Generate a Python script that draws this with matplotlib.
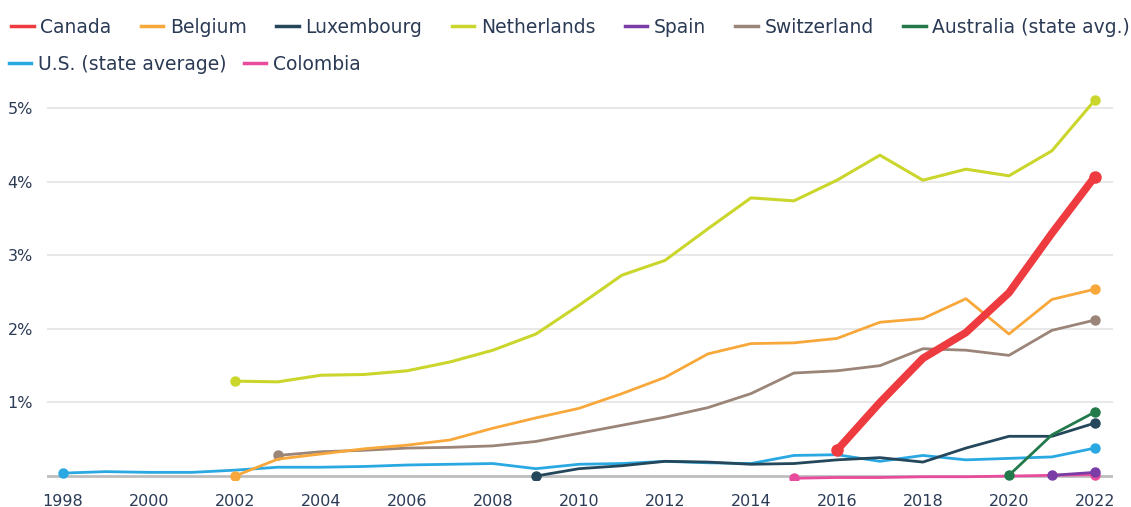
import matplotlib
matplotlib.use("Agg")
import matplotlib.pyplot as plt
from matplotlib.lines import Line2D

plt.rcParams['font.family'] = ['DejaVu Sans']

# share of deaths, % by year
canada_years = [2016, 2017, 2018, 2019, 2020, 2021, 2022]
canada = [0.35, 1.0, 1.6, 1.95, 2.49, 3.3, 4.07]

belgium_years = list(range(2002, 2023))
belgium = [0.0, 0.23, 0.3, 0.37, 0.42, 0.49, 0.65, 0.79, 0.92, 1.12, 1.34, 1.66, 1.8, 1.81, 1.87,
           2.09, 2.14, 2.41, 1.93, 2.4, 2.54]

luxembourg_years = list(range(2009, 2023))
luxembourg = [0.0, 0.1, 0.14, 0.2, 0.19, 0.16, 0.17, 0.22, 0.25, 0.19, 0.38, 0.54, 0.54, 0.72]

netherlands_years = list(range(2002, 2023))
netherlands = [1.29, 1.28, 1.37, 1.38, 1.43, 1.55, 1.71, 1.93, 2.32, 2.73, 2.93, 3.36, 3.78, 3.74,
               4.02, 4.36, 4.02, 4.17, 4.08, 4.42, 5.11]

spain_years = [2021, 2022]
spain = [0.01, 0.05]

switzerland_years = list(range(2003, 2023))
switzerland = [0.28, 0.33, 0.35, 0.38, 0.39, 0.41, 0.47, 0.58, 0.69, 0.8, 0.93, 1.12, 1.4, 1.43,
               1.5, 1.73, 1.71, 1.64, 1.98, 2.12]

australia_years = [2020, 2021, 2022]
australia = [0.01, 0.56, 0.87]

us_years = list(range(1998, 2023))
us = [0.04, 0.06, 0.05, 0.05, 0.08, 0.12, 0.12, 0.13, 0.15, 0.16, 0.17, 0.1, 0.16, 0.17, 0.2,
      0.18, 0.17, 0.28, 0.29, 0.2, 0.28, 0.22, 0.24, 0.26, 0.38]

colombia_years = list(range(2015, 2023))
colombia = [-0.03, -0.02, -0.02, -0.01, -0.01, 0.0, 0.01, 0.02]

series = [
    ("Canada", canada_years, canada, "#ee3b3f", 5.5),
    ("Belgium", belgium_years, belgium, "#f8a83a", 2.0),
    ("Luxembourg", luxembourg_years, luxembourg, "#24475b", 2.0),
    ("Netherlands", netherlands_years, netherlands, "#cad62b", 2.2),
    ("Spain", spain_years, spain, "#7a3da6", 2.0),
    ("Switzerland", switzerland_years, switzerland, "#9b8478", 2.0),
    ("Australia (state avg.)", australia_years, australia, "#22794a", 2.0),
    ("U.S. (state average)", us_years, us, "#2aa8e2", 2.0),
    ("Colombia", colombia_years, colombia, "#e94c9c", 2.0),
]
draw_order = ["U.S. (state average)", "Colombia", "Luxembourg", "Switzerland", "Belgium",
              "Netherlands", "Spain", "Australia (state avg.)", "Canada"]

tick_years = list(range(1998, 2023, 2))
y_ticks = [1, 2, 3, 4, 5]
y_labels = ["1%", "2%", "3%", "4%", "5%"]

text_col = "#2b3a55"

fig = plt.figure(figsize=(11.31, 5.07), dpi=100)
ax = fig.add_axes([47 / 1131, 0.0538, (1113 - 47) / 1131, 0.762])

for name in draw_order:
    for s in series:
        if s[0] != name:
            continue
        _, xs, ys, col, lw = s
        ms = 8 if name == "Canada" else 6.5
        ax.plot(xs, ys, color=col, lw=lw, marker="o", ms=ms, markevery=[0, len(xs) - 1],
                solid_joinstyle="round", solid_capstyle="round", zorder=3 + draw_order.index(name))

ax.set_xlim(1997.63, 2022.42)
ax.set_ylim(-0.05, 5.2)
ax.set_xticks(tick_years)
ax.set_xticklabels([str(y) for y in tick_years])
ax.set_yticks(y_ticks)
ax.set_yticklabels(y_labels)
ax.grid(axis="y", color="#e6e6e6", lw=1.3)
ax.axhline(0, color="#bdbdbd", lw=2, zorder=2)
ax.tick_params(length=0, labelsize=11.5, colors=text_col)
ax.tick_params(axis="y", pad=10)
ax.tick_params(axis="x", pad=10)
for sp in ax.spines.values():
    sp.set_visible(False)

handles = {s[0]: Line2D([], [], color=s[3], lw=2.5) for s in series}
row1 = ["Canada", "Belgium", "Luxembourg", "Netherlands", "Spain", "Switzerland", "Australia (state avg.)"]
row2 = ["U.S. (state average)", "Colombia"]
kw = dict(frameon=False, handlelength=1.2, handletextpad=0.37,
          fontsize=13.5, labelcolor=text_col, loc="upper left", borderaxespad=0, borderpad=0)
fig.legend([handles[n] for n in row1], row1, ncol=7, columnspacing=1.55,
           bbox_to_anchor=(11 / 1131, 1 - 18 / 507), **kw)
fig.legend([handles[n] for n in row2], row2, ncol=2, columnspacing=0.9,
           bbox_to_anchor=(9 / 1131, 1 - 55 / 507), **kw)

fig.savefig("out.png", dpi=100)
